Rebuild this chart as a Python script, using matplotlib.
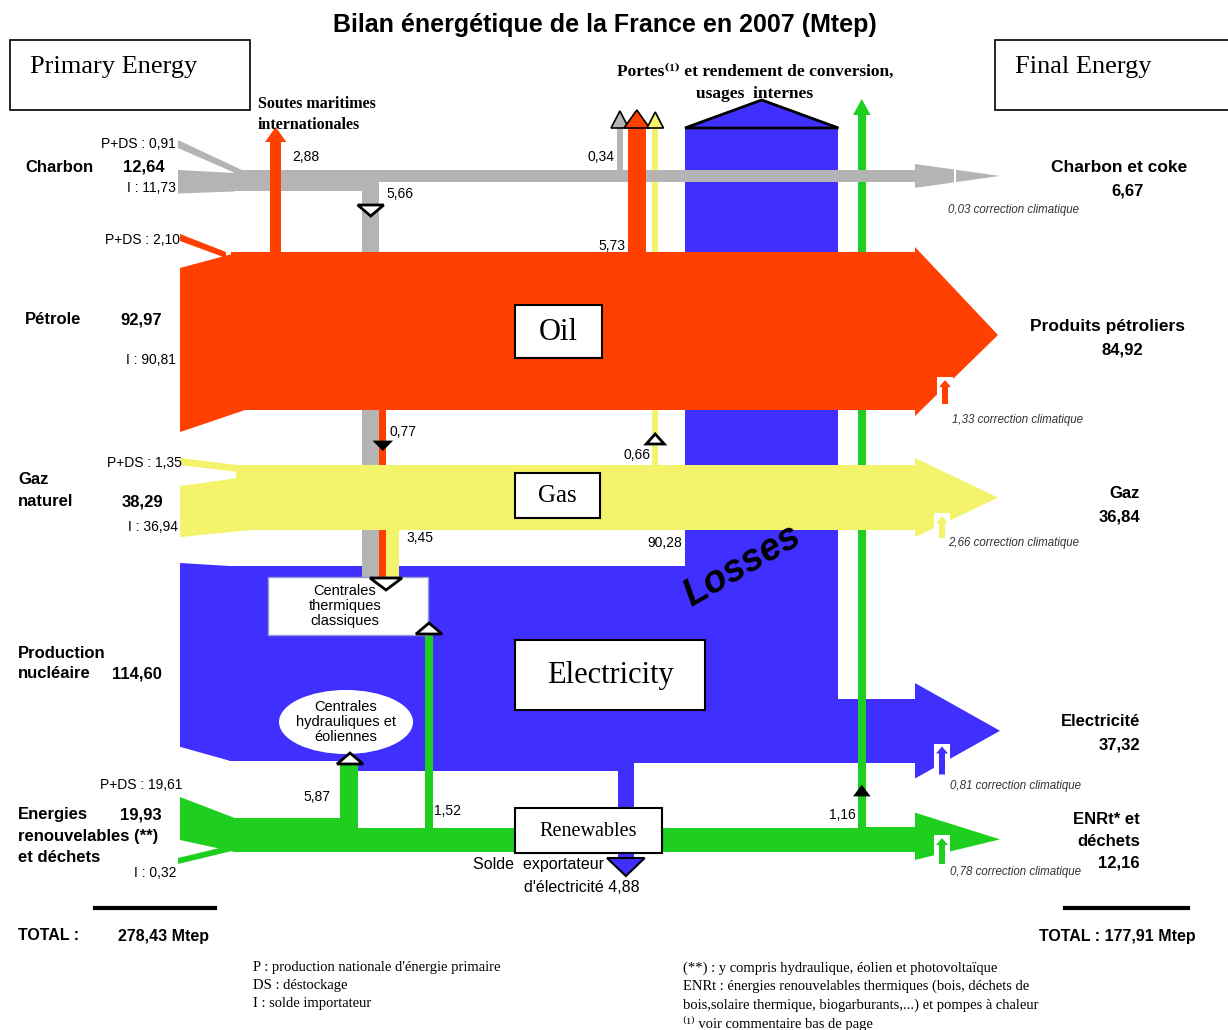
import matplotlib.pyplot as plt
from matplotlib.patches import Polygon, Rectangle, Ellipse

# energy balance France 2007 (Mtep)
primary = [12.64, 92.97, 38.29, 114.60, 19.93]     # coal, oil, gas, nuclear, renewables
prod_destock = [0.91, 2.10, 1.35, 19.61]            # P+DS : coal, oil, gas, renewables
imports = [11.73, 90.81, 36.94, 0.32]               # I : coal, oil, gas, renewables
final = [6.67, 84.92, 36.84, 37.32, 12.16]          # coal, oil, gas, elec, renewables
climate_corr = [0.03, 1.33, 2.66, 0.81, 0.78]
to_thermal = [5.66, 0.77, 3.45]                     # coal, oil, gas -> thermal plants
own_use = [0.34, 5.73, 0.66]                        # coal, oil, gas -> losses
bunkers = 2.88
renew_out = [5.87, 1.52, 1.16]                      # hydro/wind, thermal, losses
elec_losses = 90.28
elec_export = 4.88
totals = [278.43, 177.91]

COAL, OIL, GAS, ELEC, REN = "#b4b4b4", "#ff4000", "#f3f36c", "#4030ff", "#1fcf1f"
SANS = ["Liberation Sans", "DejaVu Sans"]
SERIF = ["Liberation Serif", "DejaVu Serif"]

K = 1.7                       # px per Mtep for the main bands


def bw(v):
    # width of the small branch flows
    return 5 + 2.2 * v


def fmt(v):
    return f"{v:.2f}".replace(".", ",")


fig = plt.figure(figsize=(12.28, 10.30), dpi=100)
ax = fig.add_axes([0, 0, 1, 1])
ax.set_xlim(0, 1228)
ax.set_ylim(1030, 0)
ax.axis("off")


def poly(pts, color, z, ec="none", lw=0):
    ax.add_patch(Polygon(pts, closed=True, fc=color, ec=ec, lw=lw, zorder=z))


def rect(x0, x1, y0, y1, color, z):
    poly([(x0, y0), (x1, y0), (x1, y1), (x0, y1)], color, z)


def txt(x, y, s, size=10, ha="left", va="center", weight="normal", family=SANS, **kw):
    ax.text(x, y, s, fontsize=size, ha=ha, va=va, fontweight=weight,
            family=family, zorder=8, **kw)


def marker(x, y, up, w=26, h=11, fc="white"):
    d = -h if up else h
    poly([(x - w / 2, y), (x + w / 2, y), (x, y + d)], fc, 7, ec="black", lw=2)


def corr(x, y0, y1, color):
    # small "correction climatique" arrow under the head, on a white patch
    rect(x - 8, x + 8, y0 - 3, y1 + 1, "white", 6)
    poly([(x - 3, y1), (x - 3, y0 + 7), (x - 6, y0 + 7), (x, y0), (x + 6, y0 + 7),
          (x + 3, y0 + 7), (x + 3, y1)], color, 6)


xl, xj, xh, xt = 180, 235, 915, 1000

# ---------------- electricity (drawn first, lowest) ----------------
ye = 566
e_bot = ye + K * primary[3]
x_loss = 685
x_loss2 = x_loss + K * elec_losses
rect(x_loss, x_loss2, 128, ye + 2, ELEC, 1)
poly([(x_loss, 128), ((x_loss + x_loss2) / 2, 100), (x_loss2, 128)], ELEC, 1, ec="black", lw=2)
poly([(xl, ye - 3), (230, ye), (230, e_bot), (xl, e_bot - 14)], ELEC, 1)
x_hyd = 340
e_bot2 = e_bot + K * renew_out[0]
x_exp = 618
e_bot3 = e_bot2 - K * elec_export
poly([(229, ye), (x_loss2, ye), (x_loss2, e_bot3), (x_exp + bw(elec_export), e_bot3),
      (x_exp + bw(elec_export), e_bot2), (x_hyd, e_bot2), (x_hyd, e_bot), (229, e_bot)], ELEC, 1)
e_top_f = e_bot3 - K * final[3]
rect(x_loss2 - 1, xh, e_top_f, e_bot3, ELEC, 1)
poly([(xh, e_top_f - 16), (xt, (e_top_f + e_bot3) / 2), (xh, e_bot3 + 16)], ELEC, 1)
rect(x_exp, x_exp + bw(elec_export), e_bot2 - 1, 858, ELEC, 2)
poly([(x_exp - 11, 858), (x_exp + bw(elec_export) + 11, 858),
      (x_exp + bw(elec_export) / 2, 876)], ELEC, 6, ec="black", lw=1.5)

# ---------------- coal ----------------
c_top = 170
c_bot = c_top + K * primary[0]
poly([(178, 140), (242, c_top), (242, c_top + 6), (178, 148)], COAL, 3)
poly([(178, c_top), (xj, c_top + 3), (xj, c_bot), (178, c_bot + 2)], COAL, 3)
xc = 362
rect(xj - 1, xc + bw(to_thermal[0]), c_top, c_bot, COAL, 3)
rect(xc, xc + bw(to_thermal[0]), c_top, 578, COAL, 2)
c_bot2 = c_top + K * (primary[0] - to_thermal[0])
rect(xc + bw(to_thermal[0]) - 1, xh, c_top, c_bot2, COAL, 3)
poly([(xh, c_top - 6), (xt, (c_top + c_bot2) / 2), (xh, c_bot2 + 6)], COAL, 3)
xcl = 617
rect(xcl, xcl + bw(own_use[0]), 127, c_top + 1, COAL, 2)
poly([(xcl - 6, 128), (xcl + bw(own_use[0]) / 2, 111), (xcl + bw(own_use[0]) + 6, 128)],
     COAL, 6, ec="black", lw=1.2)

# ---------------- oil ----------------
o_top = 252
o_bot = o_top + K * primary[1]
poly([(180, 234), (226, o_top), (226, o_top + 6), (180, 241)], OIL, 3)
poly([(180, 268), (232, o_top + 2), (245, o_bot), (180, o_bot + 22)], OIL, 3)
rect(231, xh, o_top, o_bot, OIL, 3)
poly([(xh, o_top - 5), (998, (o_top + o_bot) / 2 + 4), (xh, o_bot + 6)], OIL, 3)
xb = 270
rect(xb, xb + bw(bunkers), 141, o_top + 1, OIL, 4)
poly([(xb - 5, 142), (xb + bw(bunkers) / 2, 127), (xb + bw(bunkers) + 5, 142)], OIL, 4)
xol = 628
rect(xol, xol + bw(own_use[1]), 127, o_top + 1, OIL, 4)
poly([(xol - 4, 128), (xol + bw(own_use[1]) / 2, 110), (xol + bw(own_use[1]) + 4, 128)],
     OIL, 6, ec="black", lw=1.2)
xot = xc + bw(to_thermal[0])
rect(xot, xot + bw(to_thermal[1]), o_bot - 1, 578, OIL, 2)

# ---------------- gas ----------------
g_top = 465
g_bot = g_top + K * primary[2]
poly([(180, 458), (262, g_top + 3), (262, g_top + 10), (180, 465)], GAS, 3)
poly([(180, 486), (238, 478), (250, g_bot), (180, g_bot + 7)], GAS, 3)
rect(236, xh, g_top, g_bot, GAS, 3)
poly([(xh, g_top - 7), (998, (g_top + g_bot) / 2), (xh, g_bot + 7)], GAS, 3)
xgl = 652
rect(xgl, xgl + bw(own_use[2]), 127, g_top + 1, GAS, 2)
poly([(xgl - 5, 128), (xgl + bw(own_use[2]) / 2, 112), (xgl + bw(own_use[2]) + 5, 128)],
     GAS, 6, ec="black", lw=1.2)
xgt = xot + bw(to_thermal[1])
rect(xgt, xgt + bw(to_thermal[2]), g_bot - 1, 578, GAS, 2)

# ---------------- renewables ----------------
r_bot = 852
r_top = r_bot - K * primary[4]
poly([(180, 797), (xj, r_top), (xj, r_bot), (180, 840)], REN, 3)
poly([(178, 858), (232, 845), (232, 851), (178, 864)], REN, 3)
rect(xj - 1, x_hyd + bw(renew_out[0]), r_top, r_bot, REN, 3)
rect(x_hyd, x_hyd + bw(renew_out[0]), e_bot, r_top + 1, REN, 2)
r_top2 = r_top + K * renew_out[0]
x_rt = 425
rect(x_hyd + bw(renew_out[0]) - 1, x_rt + bw(renew_out[1]), r_top2, r_bot, REN, 3)
rect(x_rt, x_rt + bw(renew_out[1]), 634, r_top2 + 1, REN, 2)
r_top3 = r_top2 + K * renew_out[1]
x_rl = 858
rect(x_rt + bw(renew_out[1]) - 1, x_rl + bw(renew_out[2]), r_top3 - 3, r_bot, REN, 3)
rect(x_rl, x_rl + bw(renew_out[2]), 113, r_top3 + 1, REN, 2)
poly([(x_rl - 5, 115), (x_rl + bw(renew_out[2]) / 2, 99), (x_rl + bw(renew_out[2]) + 5, 115)], REN, 2)
r_top4 = r_top3 + K * renew_out[2]
rect(x_rl + bw(renew_out[2]) - 1, xh, r_top4 - 6, r_bot, REN, 3)
poly([(xh, r_top4 - 20), (xt, (r_top4 + r_bot) / 2 - 3), (xh, r_bot + 8)], REN, 3)

# climate correction marks
corr(945, o_bot - 30, o_bot - 6, OIL)
corr(942, g_bot - 14, g_bot + 8, GAS)
corr(942, e_bot3 - 16, e_bot3 + 12, ELEC)
corr(942, r_bot - 14, r_bot + 12, REN)
ax.plot([955, 955], [c_top - 3, c_bot2 + 3], color="white", lw=1.5, zorder=6)

# plants
ax.add_patch(Rectangle((268, 577), 160, 58, fc="white", ec="#9a9ad0", lw=1, zorder=5))
txt(345, 606, "Centrales\nthermiques\nclassiques", size=10.5, ha="center", linespacing=1.1)
ax.add_patch(Ellipse((346, 722), 134, 64, fc="white", ec="none", zorder=5))
txt(346, 722, "Centrales\nhydrauliques et\néoliennes", size=10.5, ha="center", linespacing=1.1)

# flow markers
marker(xc + bw(to_thermal[0]) / 2, 205, up=False)
marker(xot + bw(to_thermal[1]) / 2, 442, up=False, w=14, h=7, fc="black")
marker(xgl + bw(own_use[2]) / 2, 444, up=True, w=18, h=10)
marker(x_rl + bw(renew_out[2]) / 2, 795, up=True, w=12, h=8, fc="black")
marker(386, 578, up=False, w=32, h=12)
marker(429, 634, up=True, w=26, h=11)
marker(350, 764, up=True, w=26, h=11)

# label boxes
for (x0, y0, w, h, s, fs) in [(515, 305, 87, 53, "Oil", 22), (515, 473, 85, 45, "Gas", 18),
                              (515, 640, 190, 70, "Electricity", 22), (515, 808, 147, 45, "Renewables", 14.5)]:
    ax.add_patch(Rectangle((x0, y0), w, h, fc="white", ec="black", lw=1.5, zorder=7))
    txt(x0 + w / 2, y0 + h / 2 + 1, s, size=fs, ha="center", family=SERIF)
for (x0, s) in [(10, "Primary Energy"), (995, "Final Energy")]:
    ax.add_patch(Rectangle((x0, 40), 240, 70, fc="white", ec="black", lw=1.2, zorder=7))
    txt(x0 + 20, 67, s, size=19, family=SERIF)

txt(742, 566, "Losses", size=27, ha="center", weight="bold", style="italic", rotation=30)

# titles
txt(605, 25, "Bilan énergétique de la France en 2007 (Mtep)", size=18, ha="center", weight="bold")
txt(755, 72, "Portes⁽¹⁾ et rendement de conversion,", size=12.5, ha="center", weight="bold", family=SERIF)
txt(755, 94, "usages  internes", size=12.5, ha="center", weight="bold", family=SERIF)
txt(258, 104, "Soutes maritimes", size=11.5, weight="bold", family=SERIF)
txt(258, 125, "internationales", size=11.5, weight="bold", family=SERIF)

# left side labels
txt(176, 144, f"P+DS : {fmt(prod_destock[0])}", size=10, ha="right")
txt(25, 167, "Charbon", size=12, weight="bold")
txt(123, 167, fmt(primary[0]), size=12, weight="bold")
txt(176, 188, f"I : {fmt(imports[0])}", size=10, ha="right")
txt(180, 240, f"P+DS : {fmt(prod_destock[1])}", size=10, ha="right")
txt(25, 320, "Pétrole", size=12, weight="bold")
txt(120, 320, fmt(primary[1]), size=12, weight="bold")
txt(176, 360, f"I : {fmt(imports[1])}", size=10, ha="right")
txt(182, 463, f"P+DS : {fmt(prod_destock[2])}", size=10, ha="right")
txt(18, 480, "Gaz", size=12, weight="bold")
txt(18, 502, "naturel", size=12, weight="bold")
txt(122, 502, fmt(primary[2]), size=12, weight="bold")
txt(178, 527, f"I : {fmt(imports[2])}", size=10, ha="right")
txt(18, 653, "Production", size=12, weight="bold")
txt(18, 674, "nucléaire", size=12, weight="bold")
txt(112, 674, fmt(primary[3]), size=12, weight="bold")
txt(182, 785, f"P+DS : {fmt(prod_destock[3])}", size=10, ha="right")
txt(18, 815, "Energies", size=12, weight="bold")
txt(120, 815, fmt(primary[4]), size=12, weight="bold")
txt(18, 836, "renouvelables (**)", size=12, weight="bold")
txt(18, 858, "et déchets", size=12, weight="bold")
txt(176, 873, f"I : {fmt(imports[3])}", size=10, ha="right")
ax.plot([95, 215], [908, 908], color="black", lw=3)
txt(18, 936, "TOTAL :", size=11.5, weight="bold")
txt(118, 936, f"{fmt(totals[0])} Mtep", size=11.5, weight="bold")

# right side labels
txt(1119, 168, "Charbon et coke", size=12.5, ha="center", weight="bold")
txt(1128, 191, fmt(final[0]), size=12, ha="center", weight="bold")
txt(1107, 327, "Produits pétroliers", size=12.5, ha="center", weight="bold")
txt(1122, 350, fmt(final[1]), size=12, ha="center", weight="bold")
txt(1140, 494, "Gaz", size=12, ha="right", weight="bold")
txt(1140, 517, fmt(final[2]), size=12, ha="right", weight="bold")
txt(1140, 722, "Electricité", size=12, ha="right", weight="bold")
txt(1140, 745, fmt(final[3]), size=12, ha="right", weight="bold")
txt(1140, 820, "ENRt* et", size=12, ha="right", weight="bold")
txt(1140, 842, "déchets", size=12, ha="right", weight="bold")
txt(1140, 863, fmt(final[4]), size=12, ha="right", weight="bold")
for (x, y, v) in zip([948, 952, 948, 950, 950], [210, 420, 543, 786, 872], climate_corr):
    txt(x, y, f"{fmt(v)} correction climatique", size=8.3, style="italic", color="#333333")
ax.plot([1065, 1188], [908, 908], color="black", lw=3)
txt(1196, 936, f"TOTAL : {fmt(totals[1])} Mtep", size=11.5, ha="right", weight="bold")

# flow values
txt(292, 157, fmt(bunkers), size=10)
txt(386, 194, fmt(to_thermal[0]), size=10)
txt(614, 157, fmt(own_use[0]), size=10, ha="right")
txt(625, 246, fmt(own_use[1]), size=10, ha="right")
txt(390, 432, fmt(to_thermal[1]), size=10)
txt(650, 455, fmt(own_use[2]), size=10, ha="right")
txt(406, 538, fmt(to_thermal[2]), size=10)
txt(682, 543, fmt(elec_losses), size=10, ha="right")
txt(330, 797, fmt(renew_out[0]), size=10, ha="right")
txt(434, 811, fmt(renew_out[1]), size=10)
txt(856, 815, fmt(renew_out[2]), size=10, ha="right")
txt(604, 865, "Solde  exportateur", size=11.5, ha="right")
txt(640, 888, f"d'électricité {fmt(elec_export)}", size=11.5, ha="right")

# footnotes
for i, s in enumerate(["P : production nationale d'énergie primaire", "DS : déstockage",
                       "I : solde importateur"]):
    txt(253, 968 + 18 * i, s, size=10.5, family=SERIF)
for i, s in enumerate(["(**) : y compris hydraulique, éolien et photovoltaïque",
                       "ENRt : énergies renouvelables thermiques (bois, déchets de",
                       "bois,solaire thermique, biogarburants,...) et pompes à chaleur",
                       "⁽¹⁾ voir commentaire bas de page"]):
    txt(683, 968 + 18.5 * i, s, size=10.5, family=SERIF)

fig.savefig("out.png", dpi=100)
